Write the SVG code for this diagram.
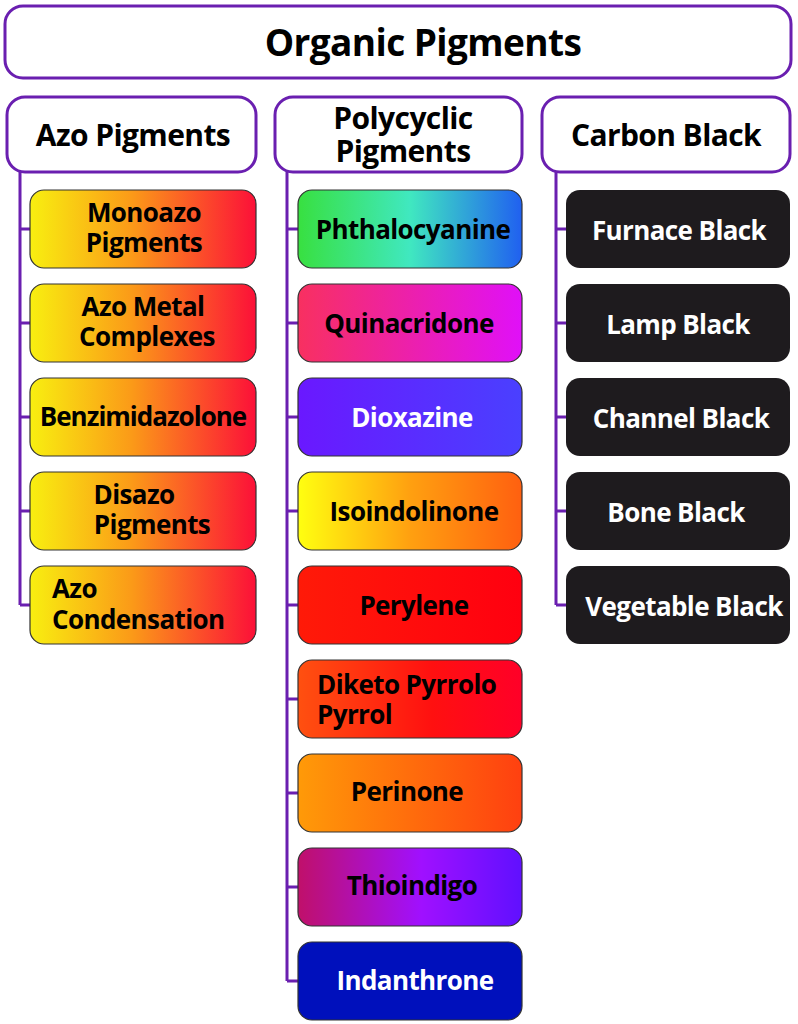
<svg xmlns="http://www.w3.org/2000/svg" width="798" height="1024" viewBox="0 0 798 1024">
<style>
text{font-family:"Open Sans","Noto Sans",sans-serif;font-weight:bold;text-anchor:middle;letter-spacing:-0.6px}
.hd{fill:#fff;stroke:#6a1fb0;stroke-width:3}
.ch{stroke:#333;stroke-width:1.2}
.t{font-size:26px;fill:#000}
.w{font-size:26px;fill:#fff}
.h{font-size:30px;fill:#000}
.ln{fill:none;stroke:#6a1fb0;stroke-width:3}
</style>
<defs>
<linearGradient id="yr"><stop offset="0" stop-color="#f8ef10"/><stop offset="0.45" stop-color="#fb9a18"/><stop offset="1" stop-color="#fc1038"/></linearGradient>
<linearGradient id="ph"><stop offset="0" stop-color="#38e040"/><stop offset="0.5" stop-color="#40e8c0"/><stop offset="1" stop-color="#2060f0"/></linearGradient>
<linearGradient id="qu"><stop offset="0" stop-color="#f83060"/><stop offset="1" stop-color="#e010f8"/></linearGradient>
<linearGradient id="di"><stop offset="0" stop-color="#6a18ff"/><stop offset="1" stop-color="#4a40ff"/></linearGradient>
<linearGradient id="is"><stop offset="0" stop-color="#ffff10"/><stop offset="0.5" stop-color="#ffa010"/><stop offset="1" stop-color="#ff6010"/></linearGradient>
<linearGradient id="pe"><stop offset="0" stop-color="#ff1a08"/><stop offset="1" stop-color="#ff0010"/></linearGradient>
<linearGradient id="dp"><stop offset="0" stop-color="#ff5010"/><stop offset="0.6" stop-color="#ff1010"/><stop offset="1" stop-color="#ff0028"/></linearGradient>
<linearGradient id="pn"><stop offset="0" stop-color="#ff9a08"/><stop offset="1" stop-color="#ff4010"/></linearGradient>
<linearGradient id="th"><stop offset="0" stop-color="#c0106a"/><stop offset="0.55" stop-color="#a010ff"/><stop offset="1" stop-color="#6010ff"/></linearGradient>
</defs>
<g id="connectors">
<path class="ln" d="M20 172V605M20 229H30M20 323H30M20 417H30M20 511H30M20 605H30"/>
<path class="ln" d="M287 172V981M287 229H298M287 323H298M287 417H298M287 511H298M287 605H298M287 699H298M287 793H298M287 887H298M287 981H298"/>
<path class="ln" d="M556 172V605M556 229H566M556 323H566M556 417H566M556 511H566M556 605H566"/>
</g>
<g id="root"><rect class="hd" x="5" y="6" width="786" height="72" rx="18"/><text x="423" y="56" style="font-size:37px">Organic Pigments</text></g>
<g id="azo"><rect class="hd" x="7" y="97" width="249" height="75" rx="18"/><text class="h" x="133" y="146">Azo Pigments</text></g>
<g id="poly"><rect class="hd" x="275" y="97" width="247" height="75" rx="18"/><text class="h" x="403" y="129">Polycyclic</text><text class="h" x="403" y="162">Pigments</text></g>
<g id="carbon"><rect class="hd" x="542" y="97" width="248" height="75" rx="18"/><text class="h" x="666" y="146">Carbon Black</text></g>
<g id="monoazo"><rect class="ch" fill="url(#yr)" x="30" y="190" width="226" height="78" rx="14"/><text class="t" x="144" y="222">Monoazo</text><text class="t" x="144" y="252">Pigments</text></g>
<g id="azometal"><rect class="ch" fill="url(#yr)" x="30" y="284" width="226" height="78" rx="14"/><text class="t" x="143" y="316">Azo Metal</text><text class="t" x="147" y="346">Complexes</text></g>
<g id="benz"><rect class="ch" fill="url(#yr)" x="30" y="378" width="226" height="78" rx="14"/><text class="t" x="143" y="426" style="letter-spacing:-1px">Benzimidazolone</text></g>
<g id="disazo"><rect class="ch" fill="url(#yr)" x="30" y="472" width="226" height="78" rx="14"/><text class="t" x="134" y="504">Disazo</text><text class="t" x="152" y="534">Pigments</text></g>
<g id="azocond"><rect class="ch" fill="url(#yr)" x="30" y="566" width="226" height="78" rx="14"/><text class="t" x="52" y="598" style="text-anchor:start">Azo</text><text class="t" x="52" y="629" style="text-anchor:start">Condensation</text></g>
<g id="phthalo"><rect class="ch" fill="url(#ph)" x="298" y="190" width="224" height="78" rx="14"/><text class="t" x="413" y="239">Phthalocyanine</text></g>
<g id="quin"><rect class="ch" fill="url(#qu)" x="298" y="284" width="224" height="78" rx="14"/><text class="t" x="409" y="333">Quinacridone</text></g>
<g id="diox"><rect class="ch" fill="url(#di)" x="298" y="378" width="224" height="78" rx="14"/><text class="w" x="412" y="427">Dioxazine</text></g>
<g id="isoind"><rect class="ch" fill="url(#is)" x="298" y="472" width="224" height="78" rx="14"/><text class="t" x="414" y="521">Isoindolinone</text></g>
<g id="perylene"><rect class="ch" fill="url(#pe)" x="298" y="566" width="224" height="78" rx="14"/><text class="t" x="414" y="615">Perylene</text></g>
<g id="dpp"><rect class="ch" fill="url(#dp)" x="298" y="660" width="224" height="78" rx="14"/><text class="t" x="317" y="694" style="text-anchor:start">Diketo Pyrrolo</text><text class="t" x="317" y="724" style="text-anchor:start">Pyrrol</text></g>
<g id="perinone"><rect class="ch" fill="url(#pn)" x="298" y="754" width="224" height="78" rx="14"/><text class="t" x="407" y="801">Perinone</text></g>
<g id="thio"><rect class="ch" fill="url(#th)" x="298" y="848" width="224" height="78" rx="14"/><text class="t" x="412" y="895">Thioindigo</text></g>
<g id="indan"><rect class="ch" fill="#0010bc" x="298" y="942" width="224" height="78" rx="14"/><text class="w" x="415" y="990">Indanthrone</text></g>
<g id="furnace"><rect fill="#1e1b1e" x="566" y="190" width="224" height="78" rx="14"/><text class="w" x="679" y="240">Furnace Black</text></g>
<g id="lamp"><rect fill="#1e1b1e" x="566" y="284" width="224" height="78" rx="14"/><text class="w" x="678" y="334">Lamp Black</text></g>
<g id="channel"><rect fill="#1e1b1e" x="566" y="378" width="224" height="78" rx="14"/><text class="w" x="681" y="428">Channel Black</text></g>
<g id="bone"><rect fill="#1e1b1e" x="566" y="472" width="224" height="78" rx="14"/><text class="w" x="676" y="522">Bone Black</text></g>
<g id="veg"><rect fill="#1e1b1e" x="566" y="566" width="224" height="78" rx="14"/><text class="w" x="684" y="616">Vegetable Black</text></g>
</svg>
